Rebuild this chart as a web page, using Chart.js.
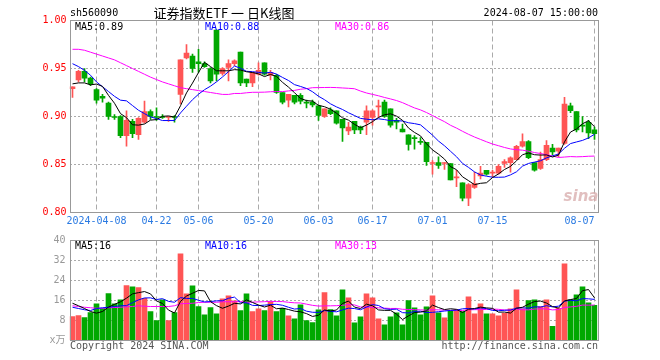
<!DOCTYPE html>
<html>
<head>
<meta charset="utf-8">
<script src="https://cdn.jsdelivr.net/npm/chart.js@4"></script>
<style>
  body { margin: 0; background: #fff; }
  #wrap { position: relative; width: 660px; height: 360px; }
  canvas { position: absolute; left: 0; }
  #kline { top: 0; }
  #vol { top: 230px; }
</style>
</head>
<body>
<div id="wrap">
  <canvas id="kline" width="660" height="230"></canvas>
  <canvas id="vol" width="660" height="130"></canvas>
</div>
<script>
/* ================= DATA ================= */
const dates = [
  '03-29',
  '04-01','04-02','04-03','04-08','04-09','04-10','04-11','04-12','04-15','04-16',
  '04-17','04-18','04-19','04-22','04-23','04-24','04-25','04-26','04-29','04-30',
  '05-06','05-07','05-08','05-09','05-10','05-13','05-14','05-15','05-16','05-17',
  '05-20','05-21','05-22','05-23','05-24','05-27','05-28','05-29','05-30','05-31',
  '06-03','06-04','06-05','06-06','06-07','06-11','06-12','06-13','06-14','06-17',
  '06-18','06-19','06-20','06-21','06-24','06-25','06-26','06-27','06-28',
  '07-01','07-02','07-03','07-04','07-05','07-08','07-09','07-10','07-11','07-12',
  '07-15','07-16','07-17','07-18','07-19','07-22','07-23','07-24','07-25','07-26',
  '07-29','07-30','07-31',
  '08-01','08-02','08-05','08-06','08-07'
];

const opens = [
  0.929,0.938,0.947,0.940,0.928,0.921,0.914,0.900,0.900,0.880,
  0.895,0.881,0.894,0.905,0.900,0.900,0.899,0.900,0.923,0.961,
  0.963,0.957,0.955,0.950,0.990,0.945,0.951,0.955,0.967,0.939,
  0.935,0.944,0.956,0.943,0.943,0.925,0.917,0.922,0.922,0.915,
  0.915,0.911,0.900,0.907,0.906,0.897,0.885,0.895,0.889,0.894,
  0.899,0.910,0.915,0.908,0.896,0.887,0.881,0.878,0.874,0.873,
  0.851,0.852,0.851,0.851,0.836,0.831,0.815,0.826,0.838,0.844,
  0.841,0.841,0.851,0.852,0.855,0.869,0.874,0.852,0.846,0.855,
  0.867,0.864,0.872,0.911,0.905,0.891,0.894,0.886
];
const highs = [
  0.931,0.948,0.950,0.941,0.929,0.923,0.915,0.902,0.901,0.906,
  0.897,0.899,0.916,0.907,0.909,0.902,0.900,0.901,0.959,0.975,
  0.965,0.970,0.957,0.951,0.990,0.951,0.959,0.959,0.967,0.939,
  0.946,0.956,0.956,0.948,0.944,0.925,0.923,0.922,0.924,0.917,
  0.917,0.912,0.908,0.909,0.906,0.897,0.894,0.895,0.890,0.911,
  0.907,0.917,0.917,0.908,0.898,0.892,0.881,0.880,0.878,0.873,
  0.854,0.858,0.852,0.851,0.844,0.831,0.830,0.842,0.848,0.844,
  0.844,0.850,0.855,0.858,0.870,0.882,0.875,0.852,0.863,0.875,
  0.871,0.867,0.920,0.914,0.905,0.900,0.896,0.889
];
const lows = [
  0.920,0.936,0.936,0.932,0.914,0.915,0.897,0.897,0.878,0.869,
  0.878,0.876,0.893,0.897,0.896,0.898,0.895,0.894,0.913,0.960,
  0.946,0.946,0.951,0.935,0.937,0.943,0.937,0.953,0.932,0.931,
  0.931,0.943,0.943,0.938,0.924,0.913,0.910,0.913,0.913,0.909,
  0.910,0.896,0.899,0.902,0.892,0.874,0.881,0.882,0.882,0.881,
  0.891,0.899,0.899,0.889,0.887,0.884,0.865,0.866,0.871,0.849,
  0.840,0.846,0.845,0.834,0.827,0.812,0.807,0.825,0.835,0.839,
  0.837,0.840,0.847,0.842,0.855,0.868,0.856,0.843,0.845,0.854,
  0.860,0.858,0.871,0.904,0.884,0.884,0.877,0.876
];
const closes = [
  0.931,0.947,0.940,0.934,0.917,0.919,0.900,0.899,0.880,0.896,
  0.882,0.898,0.905,0.900,0.899,0.899,0.900,0.899,0.959,0.966,
  0.950,0.955,0.952,0.937,0.944,0.950,0.955,0.958,0.935,0.935,
  0.946,0.948,0.944,0.946,0.925,0.915,0.923,0.915,0.916,0.914,
  0.912,0.901,0.908,0.903,0.893,0.888,0.889,0.886,0.886,0.906,
  0.906,0.911,0.900,0.891,0.894,0.884,0.871,0.877,0.873,0.853,
  0.852,0.849,0.851,0.834,0.837,0.815,0.829,0.830,0.841,0.840,
  0.842,0.848,0.853,0.857,0.869,0.874,0.857,0.844,0.855,0.870,
  0.863,0.867,0.913,0.906,0.886,0.890,0.883,0.882
];

// volume, 万
const volumes = [
  9.6,10.0,9.2,11.2,14.7,12.9,18.8,14.7,16.3,22.0,
  21.5,21.2,16.9,11.6,8.0,16.3,8.0,11.2,34.7,18.7,
  21.9,13.6,10.3,13.2,10.7,16.7,17.9,15.9,12.0,18.7,
  11.6,12.7,12.0,15.6,11.6,12.9,9.9,8.7,14.3,8.0,
  7.2,12.3,19.2,12.4,9.9,20.3,17.1,7.1,9.5,18.7,
  17.1,8.7,6.3,9.5,11.1,6.3,16.0,13.1,10.3,13.5,
  17.9,11.1,9.1,11.9,12.3,11.6,17.5,10.7,14.7,10.7,
  10.7,9.9,10.9,12.7,20.3,12.7,16.0,16.3,13.6,16.3,
  5.7,12.9,30.7,16.3,18.3,21.5,15.1,14.1
];

// moving average values before enough days are in view
const ma5Head = [0.934,0.935,0.935,0.933];
const ma10Head = [0.955,0.952,0.948,0.943,0.936,0.931,0.926,0.921,0.917];
const ma30Head = [
  0.970,0.970,0.969,0.967,0.965,0.963,0.961,0.959,0.956,0.953,
  0.950,0.947,0.944,0.941,0.9385,0.936,0.934,0.932,0.930,0.929,
  0.928,0.927,0.926,0.925,0.924,0.923,0.923,0.924,0.924
];
const vma5Head = [14.9,13.9,12.8,11.6];
const vma10Head = [13.3,12.8,12.3,12.0,12.8,13.1,13.3,13.6,13.9];
const vma30Head = [
  13.9,13.6,13.3,13.1,12.9,12.9,13.1,13.2,13.3,13.5,
  13.6,13.9,13.7,13.6,13.6,13.6,13.6,13.9,14.7,14.8,
  14.9,15.2,15.3,15.3,15.3,15.5,15.5,15.5,15.6
];

const tickDates = ['04-08','04-22','05-06','05-20','06-03','06-17','07-01','07-15','08-07'];
const tickText = ['2024-04-08','04-22','05-06','05-20','06-03','06-17','07-01','07-15','08-07'];

/* ================= HELPERS ================= */
const MONO = '"DejaVu Sans Mono", "Noto Sans CJK SC", monospace';
const UP = '#ff5555';
const DOWN = '#00a800';

function movingAvg(src, n, head) {
  return src.map((v, i) => {
    if (i < n - 1) return head[i];
    let s = 0;
    for (let k = i - n + 1; k <= i; k++) s += src[k];
    return s / n;
  });
}

const candleColors = closes.map((c, i) => (c >= opens[i] ? UP : DOWN));
const isTickIdx = i => tickDates.includes(dates[i]);

function tickLabel(i) {
  const k = tickDates.indexOf(dates[i]);
  if (k < 0) return '';
  // last label sits left of its line
  return k === tickDates.length - 1 ? tickText[k] + '     ' : tickText[k];
}

function maLine(data, color) {
  return {
    type: 'line', data, borderColor: color, borderWidth: 1,
    pointRadius: 0, tension: 0, order: 0
  };
}

/* frame + texts drawn on top of the chart */
const framePlugin = {
  id: 'frame',
  afterDraw(chart, args, opts) {
    const { ctx, chartArea: a } = chart;
    ctx.save();
    if (opts.watermark) {
      ctx.font = 'italic bold 15px "DejaVu Sans"';
      ctx.fillStyle = 'rgba(215,170,170,0.75)';
      ctx.textAlign = 'center';
      ctx.textBaseline = 'middle';
      ctx.fillText('sina', 581, 197);
    }
    ctx.strokeStyle = '#999';
    ctx.lineWidth = 1;
    ctx.strokeRect(a.left + 1, a.top, a.right - a.left, a.bottom - a.top);
    ctx.textBaseline = 'middle';
    (opts.texts || []).forEach(t => {
      ctx.font = t.font || ('10px ' + MONO);
      ctx.fillStyle = t.color;
      ctx.textAlign = t.align || 'left';
      ctx.fillText(t.text, t.x, t.y);
    });
    ctx.restore();
  }
};

/* ================= PRICE CHART ================= */
new Chart(document.getElementById('kline'), {
  type: 'bar',
  data: {
    labels: dates,
    datasets: [
      maLine(movingAvg(closes, 5, ma5Head), '#000000'),
      maLine(movingAvg(closes, 10, ma10Head), '#0000ff'),
      maLine(movingAvg(closes, 30, ma30Head), '#ff00ff'),
      {
        data: dates.map((d, i) => [lows[i], highs[i]]),
        backgroundColor: candleColors, barThickness: 1, grouped: false, order: 2
      },
      {
        data: dates.map((d, i) => [opens[i], closes[i]]),
        backgroundColor: candleColors, barThickness: 5, minBarLength: 1,
        grouped: false, order: 1
      }
    ]
  },
  options: {
    responsive: false,
    animation: false,
    devicePixelRatio: 1,
    layout: { padding: { top: 20.5, right: 62.5, left: 0, bottom: 0 } },
    plugins: {
      legend: { display: false },
      tooltip: { enabled: false },
      frame: {
        watermark: true,
        texts: [
          { text: 'sh560090', x: 70, y: 13, color: '#000' },
          { text: '证券指数ETF 一 日K线图', x: 224, y: 13, color: '#000', align: 'center',
            font: '13px "Noto Sans CJK SC"' },
          { text: '2024-08-07 15:00:00', x: 598, y: 13, color: '#000', align: 'right' },
          { text: 'MA5:0.89', x: 75, y: 27, color: '#000' },
          { text: 'MA10:0.88', x: 205, y: 27, color: '#0000ff' },
          { text: 'MA30:0.86', x: 335, y: 27, color: '#ff00ff' }
        ]
      }
    },
    scales: {
      x: {
        offset: true,
        grid: {
          offset: false, drawTicks: false,
          color: c => (isTickIdx(c.index) ? '#aaa' : 'transparent')
        },
        border: { display: false, dash: [5, 3] },
        ticks: {
          autoSkip: false, maxRotation: 0, minRotation: 0, padding: 3,
          color: '#2a7ae2', font: { family: MONO, size: 10 },
          callback: (v, i) => tickLabel(i)
        },
        afterFit: s => { s.height = 17.5; }
      },
      y: {
        min: 0.8, max: 1.0,
        grid: {
          drawTicks: false,
          color: c => (c.tick && c.tick.value > 0.801 && c.tick.value < 0.999 ? '#aaa' : 'transparent')
        },
        border: { display: false, dash: [2, 2] },
        ticks: {
          stepSize: 0.05, padding: 3, color: '#ff0000',
          font: { family: MONO, size: 10 },
          callback: v => v.toFixed(2)
        },
        afterFit: s => { s.width = 69.5; }
      }
    }
  },
  plugins: [framePlugin]
});

/* ================= VOLUME CHART ================= */
new Chart(document.getElementById('vol'), {
  type: 'bar',
  data: {
    labels: dates,
    datasets: [
      maLine(movingAvg(volumes, 5, vma5Head), '#000000'),
      maLine(movingAvg(volumes, 10, vma10Head), '#0000ff'),
      maLine(movingAvg(volumes, 30, vma30Head), '#ff00ff'),
      {
        data: volumes, backgroundColor: candleColors,
        barThickness: 5, grouped: false, order: 1
      }
    ]
  },
  options: {
    responsive: false,
    animation: false,
    devicePixelRatio: 1,
    layout: { padding: { top: 10.5, right: 62.5, left: 0, bottom: 0 } },
    plugins: {
      legend: { display: false },
      tooltip: { enabled: false },
      frame: {
        texts: [
          { text: 'MA5:16', x: 75, y: 16.5, color: '#000' },
          { text: 'MA10:16', x: 205, y: 16.5, color: '#0000ff' },
          { text: 'MA30:13', x: 335, y: 16.5, color: '#ff00ff' },
          { text: 'Copyright 2024 SINA.COM', x: 70, y: 116.5, color: '#555' },
          { text: 'http://finance.sina.com.cn', x: 598, y: 116.5, color: '#555', align: 'right' }
        ]
      }
    },
    scales: {
      x: {
        offset: true,
        grid: {
          offset: false, drawTicks: false,
          color: c => (isTickIdx(c.index) ? '#aaa' : 'transparent')
        },
        border: { display: false, dash: [5, 3] },
        ticks: { autoSkip: false, display: false },
        afterFit: s => { s.height = 19.5; }
      },
      y: {
        min: 0, max: 40,
        grid: {
          drawTicks: false,
          color: c => (c.tick && c.tick.value > 0 && c.tick.value < 40 ? '#aaa' : 'transparent')
        },
        border: { display: false, dash: [2, 2] },
        ticks: {
          stepSize: 8, padding: 4, color: '#999',
          font: { family: MONO, size: 10 },
          callback: v => (v === 0 ? 'x万' : v)
        },
        afterFit: s => { s.width = 69.5; }
      }
    }
  },
  plugins: [framePlugin]
});
</script>
</body>
</html>
